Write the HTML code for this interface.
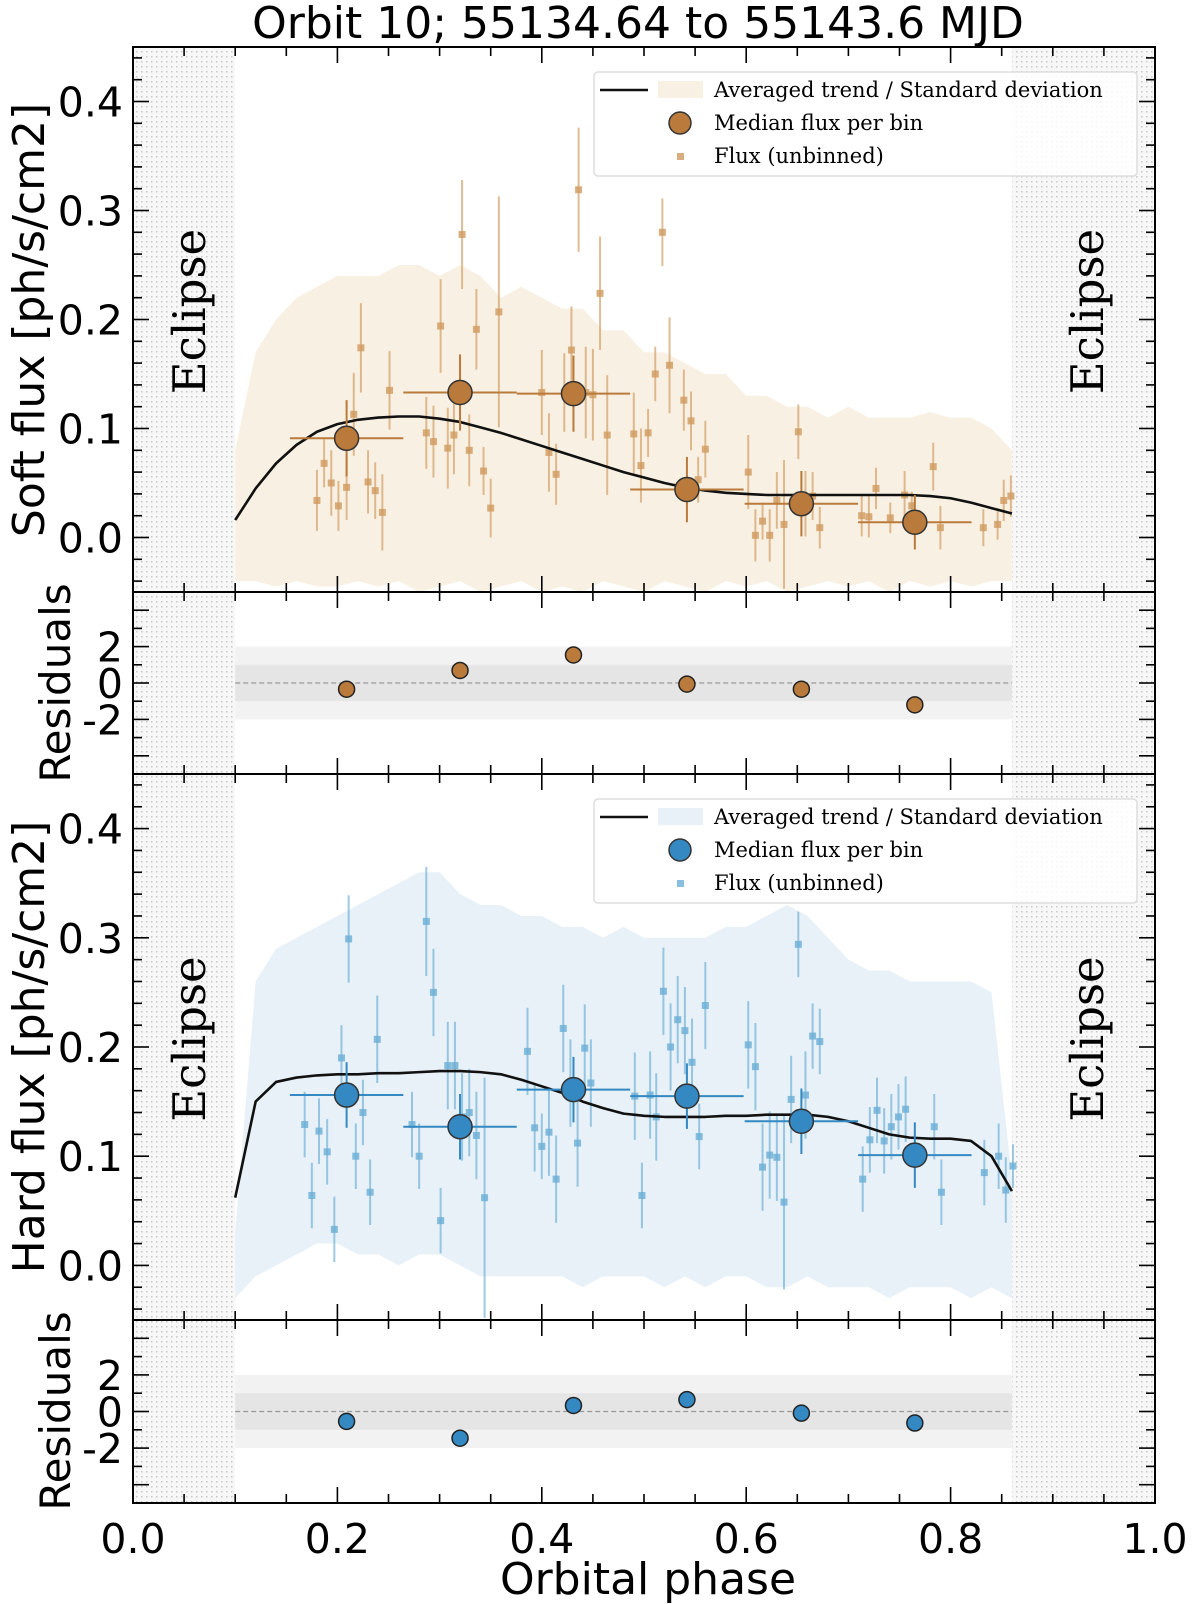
<!DOCTYPE html>
<html><head><meta charset="utf-8"><style>
html,body{margin:0;padding:0;background:#fff}
svg{display:block}
.tk{font-family:"DejaVu Sans","Liberation Sans",sans-serif;font-size:41px;fill:#000}
.ttl{font-family:"DejaVu Sans","Liberation Sans",sans-serif;font-size:44px;fill:#000}
.yl{font-family:"DejaVu Sans","Liberation Sans",sans-serif;font-size:44px;fill:#000}
.lg{font-family:"DejaVu Serif","Liberation Serif",serif;font-size:21px;fill:#000}
.ec{font-family:"DejaVu Serif","Liberation Serif",serif;font-size:45px;fill:#000}
</style></head><body>
<svg id="fig" width="1200" height="1604" viewBox="0 0 1200 1604" xmlns="http://www.w3.org/2000/svg">
<defs>
<pattern id="dots" width="5" height="5" patternUnits="userSpaceOnUse">
<rect width="5" height="5" fill="#f7f7f7"/><rect x="1" y="1" width="1.5" height="1.5" fill="#c8c8c8"/>
</pattern>
</defs>
<text x="638" y="38" text-anchor="middle" class="ttl">Orbit 10; 55134.64 to 55143.6 MJD</text>
<text x="648" y="1594" text-anchor="middle" class="ttl">Orbital phase</text>
</svg>
<script>
// ---------- data ----------
const softPhase=[.180,.187,.194,.201,.209,.216,.223,.230,.237,.244,.251,.287,.294,.301,.308,.314,.322,.329,.336,.343,.350,.358,.400,.407,.414,.422,.429,.436,.443,.450,.457,.464,.490,.497,.504,.511,.518,.525,.539,.546,.553,.560,.602,.609,.616,.623,.630,.637,.651,.658,.665,.672,.713,.720,.727,.741,.755,.762,.783,.790,.832,.846,.852,.859];
const softFlux=[.034,.068,.050,.029,.046,.113,.174,.051,.043,.023,.135,.096,.088,.194,.082,.094,.278,.080,.191,.061,.027,.207,.133,.078,.058,.133,.172,.319,.133,.131,.224,.094,.095,.066,.096,.150,.280,.158,.126,.107,.053,.081,.060,.002,.015,.002,.034,.012,.097,.031,.038,.009,.020,.019,.045,.018,.039,.029,.065,.009,.009,.012,.034,.038];
const softErr=[.028,.022,.030,.023,.030,.038,.041,.029,.026,.035,.036,.033,.033,.043,.037,.036,.050,.033,.037,.022,.027,.106,.039,.036,.028,.036,.040,.057,.042,.042,.052,.055,.038,.034,.022,.025,.031,.044,.028,.027,.021,.026,.034,.024,.017,.024,.026,.059,.025,.030,.022,.019,.019,.019,.019,.014,.022,.013,.022,.020,.017,.014,.019,.019];
const binPhase=[.209,.320,.431,.542,.654,.765];
const softMedian=[.091,.133,.132,.044,.031,.014];
const softMedErr=[.035,.035,.035,.03,.03,.025];
const softResid=[-.34,.69,1.54,-.06,-.34,-1.2];
const trendPhase=[.10,.12,.14,.16,.18,.20,.22,.24,.26,.28,.30,.32,.34,.36,.38,.40,.42,.44,.46,.48,.50,.52,.54,.56,.58,.60,.62,.64,.66,.68,.70,.72,.74,.76,.78,.80,.82,.84,.86];
const softTrend=[.016,.045,.068,.085,.097,.104,.108,.110,.111,.111,.109,.106,.101,.096,.090,.084,.078,.072,.066,.060,.055,.050,.046,.043,.041,.040,.039,.039,.039,.039,.039,.039,.039,.039,.038,.036,.032,.027,.022];
const softUpper=[.08,.17,.20,.22,.23,.24,.24,.24,.25,.25,.24,.25,.24,.22,.23,.22,.21,.21,.19,.19,.17,.17,.16,.15,.15,.13,.13,.12,.12,.11,.12,.11,.11,.11,.115,.11,.11,.10,.08];
const softLower=[-.04,-.04,-.045,-.04,-.045,-.045,-.04,-.045,-.04,-.05,-.045,-.04,-.05,-.045,-.04,-.05,-.045,-.05,-.04,-.045,-.05,-.04,-.045,-.05,-.04,-.045,-.04,-.05,-.045,-.04,-.045,-.04,-.05,-.04,-.045,-.04,-.045,-.04,-.04];
const hardPhase=[.168,.175,.182,.190,.197,.204,.211,.218,.225,.232,.239,.273,.280,.287,.294,.301,.308,.315,.322,.329,.336,.344,.386,.393,.400,.407,.414,.421,.428,.435,.442,.448,.491,.498,.506,.512,.519,.526,.533,.540,.547,.554,.560,.602,.609,.616,.623,.630,.637,.644,.651,.658,.665,.672,.714,.721,.728,.735,.742,.749,.756,.784,.791,.833,.847,.854,.861];
const hardFlux=[.129,.064,.123,.104,.033,.190,.299,.100,.140,.067,.207,.129,.100,.315,.250,.041,.183,.183,.136,.140,.119,.062,.196,.126,.109,.122,.079,.217,.167,.112,.199,.167,.155,.064,.156,.136,.251,.200,.225,.215,.186,.118,.238,.202,.182,.090,.101,.099,.058,.152,.294,.156,.210,.205,.079,.115,.142,.114,.127,.136,.143,.127,.067,.085,.100,.069,.091];
const hardErr=[.03,.03,.03,.03,.03,.03,.04,.03,.03,.03,.04,.03,.03,.05,.04,.03,.04,.04,.04,.04,.04,.11,.04,.04,.03,.04,.04,.04,.04,.04,.04,.04,.04,.03,.04,.04,.04,.04,.04,.04,.04,.03,.04,.04,.04,.04,.04,.04,.08,.04,.03,.04,.03,.03,.03,.03,.03,.03,.03,.03,.03,.03,.03,.03,.03,.03,.02];
const hardMedian=[.156,.127,.161,.155,.132,.101];
const hardMedErr=[.03,.03,.03,.03,.03,.03];
const hardResid=[-.54,-1.46,.33,.65,-.09,-.63];
const hardTrend=[.062,.150,.168,.172,.174,.175,.175,.176,.176,.177,.178,.178,.177,.175,.170,.164,.158,.150,.144,.139,.137,.136,.136,.136,.137,.137,.138,.138,.138,.136,.132,.126,.120,.117,.116,.116,.114,.100,.068];
const hardUpper=[.03,.26,.29,.30,.31,.32,.33,.34,.35,.36,.36,.34,.33,.33,.32,.32,.31,.31,.30,.31,.30,.30,.30,.30,.31,.31,.32,.33,.32,.30,.28,.27,.27,.26,.26,.26,.26,.25,.08];
const hardLower=[-.03,-.01,.0,.01,.02,.02,.01,.01,.0,.01,.01,.0,-.01,-.01,-.01,-.01,-.01,-.02,-.01,-.01,-.01,-.02,-.01,-.02,-.01,-.01,-.02,-.02,-.01,-.02,-.02,-.02,-.03,-.02,-.02,-.02,-.03,-.02,-.03];
const xTicks=[0,0.2,0.4,0.6,0.8,1.0];
const xTickLabels=["0.0","0.2","0.4","0.6","0.8","1.0"];
const fluxTicks=[0,0.1,0.2,0.3,0.4];
const fluxTickLabels=["0.0","0.1","0.2","0.3","0.4"];
const residTicks=[2,0,-2];
const residTickLabels=["2","0","-2"];
const eclipseStart=0.86, eclipseEnd=0.10, binHalf=0.0555;

// ---------- helpers ----------
const NS="http://www.w3.org/2000/svg";
const svg=document.getElementById('fig');
function mk(tag,attrs,parent){const e=document.createElementNS(NS,tag);for(const k in attrs)e.setAttribute(k,attrs[k]);(parent||svg).appendChild(e);return e;}
const L=133,R=1155;
const X=p=>L+p*(R-L);
function yScale(top,bot,lo,hi){return v=>bot-(v-lo)/(hi-lo)*(bot-top);}

function panelFrame(top,bot,name){
  const g=mk('g',{});
  
  
  let e1=mk('rect',{x:L,y:top,width:X(eclipseEnd)-L,height:bot-top,fill:'url(#dots)'},g);
  
  
  let e2=mk('rect',{x:X(eclipseStart),y:top,width:R-X(eclipseStart),height:bot-top,fill:'url(#dots)'},g);
  
  
}
function ticks(top,bot,Y,isFlux,showXLabels,name){
  const g=mk('g',{stroke:'#000','stroke-width':1.6});
  
  
  for(let i=0;i<=20;i++){const p=i*0.05,maj=(i%4===0);const len=maj?16:9;
    mk('line',{x1:X(p),x2:X(p),y1:bot,y2:bot-len},g);mk('line',{x1:X(p),x2:X(p),y1:top,y2:top+len},g);}
  if(isFlux){for(let i=-2;i<=22;i++){const v=i*0.02;const maj=(i%5===0);const y=Y(v);if(y<top-0.5||y>bot+0.5)continue;const len=maj?16:9;
      mk('line',{x1:L,x2:L+len,y1:y,y2:y},g);mk('line',{x1:R,x2:R-len,y1:y,y2:y},g);}
    fluxTicks.forEach((v,i)=>{const t=mk('text',{x:L-10,y:Y(v)+15,'text-anchor':'end',class:'tk',stroke:'none'});t.textContent=fluxTickLabels[i];
      });
  }else{for(let v=-5;v<=5;v++){const y=Y(v);const maj=(v%2===0);const len=maj?16:9;
      mk('line',{x1:L,x2:L+len,y1:y,y2:y},g);mk('line',{x1:R,x2:R-len,y1:y,y2:y},g);}
    residTicks.forEach((v,i)=>{const t=mk('text',{x:L-10,y:Y(v)+15,'text-anchor':'end',class:'tk',stroke:'none'});t.textContent=residTickLabels[i];
      });
  }
  if(showXLabels){xTicks.forEach((p,i)=>{const t=mk('text',{x:X(p),y:bot+50,'text-anchor':'middle',class:'tk',stroke:'none'});t.textContent=xTickLabels[i];
    });}
  const fr=mk('rect',{x:L,y:top,width:R-L,height:bot-top,fill:'none',stroke:'#000','stroke-width':2});
  
}
function yLabel(text,cx,cy,name,cls){const t=mk('text',{x:0,y:0,transform:`translate(${cx},${cy}) rotate(-90)`,'text-anchor':'middle',class:cls||'yl'});t.textContent=text;
  }
function eclipseText(top,bot){const cy=top+(bot-top)*0.5;
  [[205,'eclipse-label-left'],[1103,'eclipse-label-right']].forEach(([cx,n])=>{
    const t=mk('text',{x:0,y:0,transform:`translate(${cx},${cy-8}) rotate(-90)`,'text-anchor':'middle',class:'ec'});t.textContent='Eclipse';
    });}

function fluxPanel(top,bot,c,name,ph,fl,er,med,medErr,trend,up,lo){
  const Y=yScale(top,bot,-0.05,0.45);
  panelFrame(top,bot,name);
  let d='';trendPhase.forEach((p,i)=>{d+=(i?'L':'M')+X(p)+','+Y(up[i]);});
  for(let i=trendPhase.length-1;i>=0;i--)d+='L'+X(trendPhase[i])+','+Y(lo[i]);
  const band=mk('path',{d:d+'Z',fill:c.band});
  
  eclipseText(top,bot);
  const gu=mk('g',{});
  ph.forEach((p,i)=>{
    const eb=mk('line',{x1:X(p),x2:X(p),y1:Y(fl[i]-er[i]),y2:Y(fl[i]+er[i]),stroke:c.pt,'stroke-width':2,'stroke-opacity':0.65},gu);
    
    const s=mk('rect',{x:X(p)-3.5,y:Y(fl[i])-3.5,width:7,height:7,fill:c.pt,'fill-opacity':0.8},gu);
    
  });
  let td='';trendPhase.forEach((p,i)=>{td+=(i?'L':'M')+X(p)+','+Y(trend[i]);});
  const tl=mk('path',{d:td,fill:'none',stroke:'#111','stroke-width':2.6,'stroke-linejoin':'round'});
  
  binPhase.forEach((p,i)=>{
    const h=mk('line',{x1:X(p-binHalf),x2:X(p+binHalf),y1:Y(med[i]),y2:Y(med[i]),stroke:c.med,'stroke-width':2});
    
    const v=mk('line',{x1:X(p),x2:X(p),y1:Y(med[i]-medErr[i]),y2:Y(med[i]+medErr[i]),stroke:c.med,'stroke-width':2});
    
    const ci=mk('circle',{cx:X(p),cy:Y(med[i]),r:12,fill:c.med,stroke:'#333','stroke-width':1.5});
    
  });
  ticks(top,bot,Y,true,false,name);
  const lx=594,ly=top+25;
  const lg=mk('g',{});
  mk('rect',{x:lx,y:ly,width:543,height:104,rx:4,fill:'#fff','fill-opacity':0.85,stroke:'#ddd','stroke-width':1.5},lg);
  mk('line',{x1:600,x2:648,y1:ly+18,y2:ly+18,stroke:'#111','stroke-width':2.6},lg);
  mk('rect',{x:658,y:ly+9,width:45,height:17,fill:c.band},lg);
  mk('circle',{cx:680,cy:ly+51,r:11,fill:c.med,stroke:'#333','stroke-width':1.5},lg);
  mk('rect',{x:677,y:ly+81,width:7,height:7,fill:c.pt,'fill-opacity':0.8},lg);
  [['Averaged trend / Standard deviation',25],['Median flux per bin',58],['Flux (unbinned)',91]].forEach(([t,dy])=>{
    const e=mk('text',{x:714,y:ly+dy,class:'lg'},lg);e.textContent=t;
    });
}
function residPanel(top,bot,c,name,res,showX){
  const Y=yScale(top,bot,-5,5);
  panelFrame(top,bot,name);
  const b2=mk('rect',{x:X(eclipseEnd),y:Y(2),width:X(eclipseStart)-X(eclipseEnd),height:Y(-2)-Y(2),fill:'#f2f2f2'});
  
  const b1=mk('rect',{x:X(eclipseEnd),y:Y(1),width:X(eclipseStart)-X(eclipseEnd),height:Y(-1)-Y(1),fill:'#e5e5e5'});
  
  const z=mk('line',{x1:X(eclipseEnd),x2:X(eclipseStart),y1:Y(0),y2:Y(0),stroke:'#999','stroke-width':1.3,'stroke-dasharray':'5,3'});
  
  binPhase.forEach((p,i)=>{const ci=mk('circle',{cx:X(p),cy:Y(res[i]),r:8,fill:c.med,stroke:'#222','stroke-width':1.5});
    });
  ticks(top,bot,Y,false,showX,name);
}
const soft={band:'#f8f1e3',pt:'#d09a5e',med:'#b97a3c'};
const hard={band:'#e7f1f7',pt:'#6aaed6',med:'#3489c2'};
fluxPanel(47,592,soft,'soft-flux',softPhase,softFlux,softErr,softMedian,softMedErr,softTrend,softUpper,softLower);
residPanel(592,774,soft,'soft-residuals',softResid,false);
fluxPanel(774,1320,hard,'hard-flux',hardPhase,hardFlux,hardErr,hardMedian,hardMedErr,hardTrend,hardUpper,hardLower);
residPanel(1320,1503,hard,'hard-residuals',hardResid,true);
yLabel('Soft flux [ph/s/cm2]',44,320,'soft-y-axis-title');
yLabel('Residuals',70,683,'soft-resid-y-axis-title','yl2');
yLabel('Hard flux [ph/s/cm2]',44,1047,'hard-y-axis-title');
yLabel('Residuals',70,1411,'hard-resid-y-axis-title','yl2');
</script>
<style>.yl2{font-family:"DejaVu Sans","Liberation Sans",sans-serif;font-size:42px;fill:#000}</style>
</body></html>
